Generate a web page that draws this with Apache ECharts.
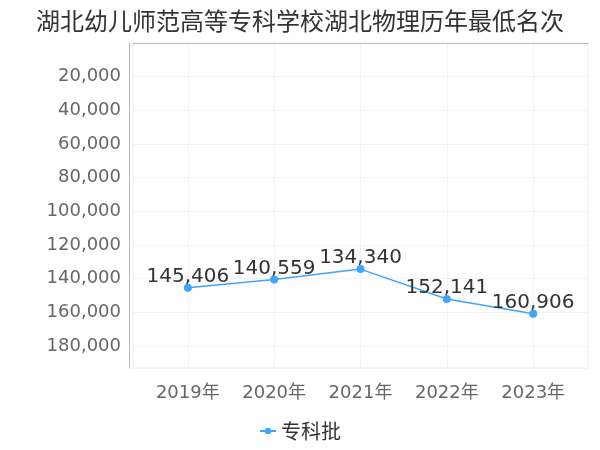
<!DOCTYPE html>
<html>
<head>
<meta charset="utf-8">
<script src="https://cdn.jsdelivr.net/npm/echarts@6/dist/echarts.min.js"></script>
<style>html,body{margin:0;padding:0;background:#fff}#c{width:600px;height:450px}</style>
</head>
<body>
<div id="c"></div>
<script>
const titleText = '湖北幼儿师范高等专科学校湖北物理历年最低名次';
const years = [2019, 2020, 2021, 2022, 2023];
const ranks = [145406, 140559, 134340, 152141, 160906];
const seriesName = '专科批';

const chart = echarts.init(document.getElementById('c'), null, {renderer: 'canvas'});
const fmt = v => v.toLocaleString('en-US');
chart.setOption({
  animation: false,
  textStyle: {fontFamily: 'DejaVu Sans, Noto Sans CJK SC, sans-serif'},
  title: {
    text: titleText, left: 'center', top: 4,
    textStyle: {fontSize: 24, fontWeight: 'normal', color: '#333', fontFamily: 'Noto Sans CJK SC, sans-serif'}
  },
  legend: {
    data: [seriesName], bottom: 4, left: 'center', itemWidth: 16, itemHeight: 8,
    textStyle: {fontSize: 20, color: '#333', fontFamily: 'Noto Sans CJK SC, sans-serif'}
  },
  grid: {left: 133, right: 12, top: 43, bottom: 82, show: true, borderColor: '#eeeeee', borderWidth: 1},
  xAxis: {
    type: 'value', min: 2018.365, max: 2023.635, offset: 4,
    axisLine: {show: true, lineStyle: {color: '#bbb'}},
    axisTick: {show: false, customValues: years},
    axisLabel: {customValues: years, fontSize: 18, color: '#666', margin: 12, formatter: v => v + '年'},
    splitLine: {show: true, lineStyle: {color: '#f2f2f2'}}
  },
  yAxis: {
    type: 'value', inverse: true, min: 0, max: 193087, interval: 20000, offset: 4,
    axisLine: {show: true, lineStyle: {color: '#bbb'}},
    axisTick: {show: false},
    axisLabel: {fontSize: 18, color: '#666', margin: 8, showMinLabel: false, showMaxLabel: false,
      formatter: v => (v % 20000 === 0 && v > 0) ? fmt(v) : ''},
    splitLine: {show: true, lineStyle: {color: '#f2f2f2'}}
  },
  series: [{
    name: seriesName, type: 'line',
    data: years.map((y, i) => [y, ranks[i]]),
    symbol: 'circle', symbolSize: 8,
    itemStyle: {color: '#3ea4ff'},
    lineStyle: {color: '#3ea4ff', width: 1.5},
    label: {show: true, position: 'top', distance: 0, offset: [0, 3], fontSize: 20, color: '#333', formatter: p => fmt(p.value[1])}
  }]
});
</script>
</body>
</html>
